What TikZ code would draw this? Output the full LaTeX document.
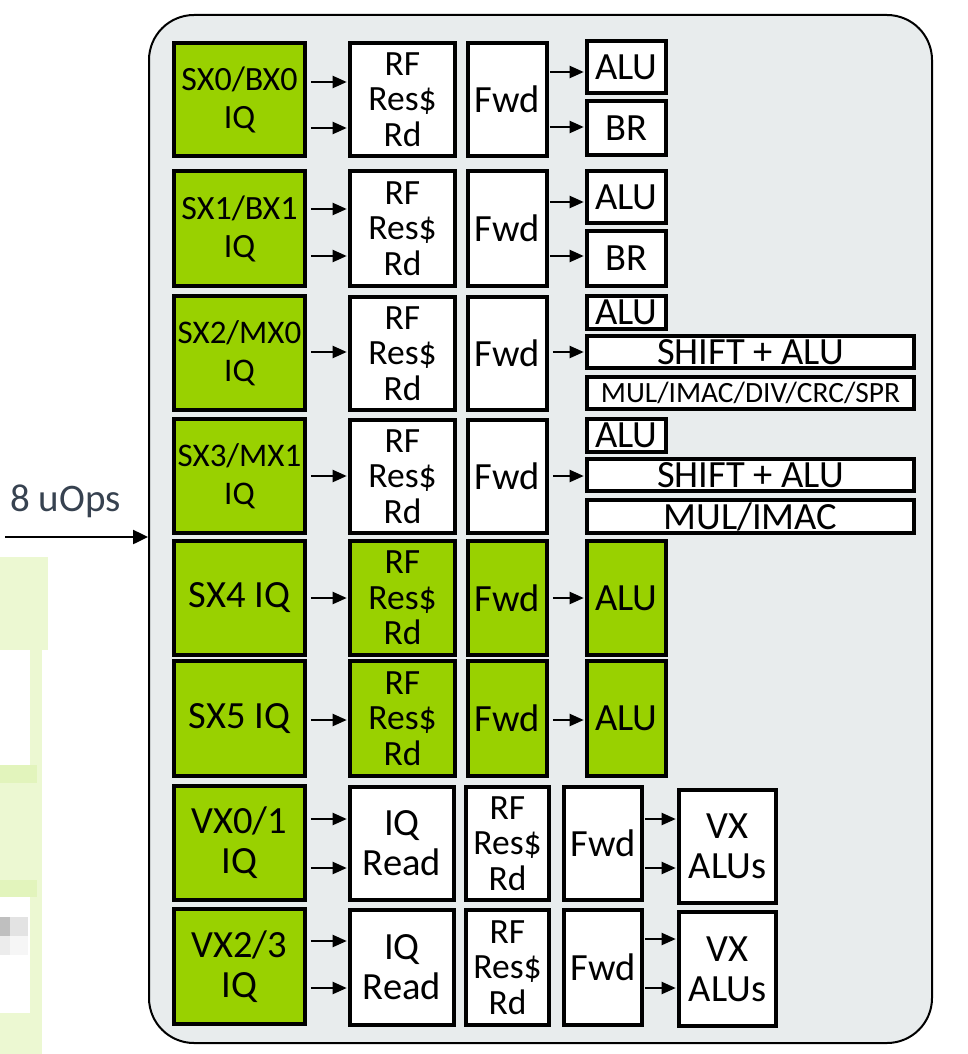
\documentclass[tikz,border=0pt]{standalone}
\usepackage{fontspec}
\setmainfont{Carlito}
\usetikzlibrary{arrows.meta}
\definecolor{grn}{RGB}{153,209,0}
\definecolor{panelc}{RGB}{232,236,237}
\definecolor{lbl}{RGB}{55,66,80}
\definecolor{pale}{RGB}{236,248,210}
\definecolor{palex}{RGB}{226,244,188}
\newcommand\fbig{\fontsize{38.5}{40}\selectfont}
\newcommand\fgA{\fontsize{34}{38}\selectfont}
\newcommand\fgB{\fontsize{33}{38}\selectfont}
\newcommand\frf{\fontsize{35.5}{35.5}\selectfont}
\newcommand\fsm{\fontsize{29.4}{30}\selectfont}
\newcommand\bx[7]{\node[#6, minimum width={#4pt-#2pt}, minimum height={#5pt-#3pt}] (#1) at ({(#2+#4)/2},{(#3+#5)/2}) {#7};}
\newcommand\arr[4]{\path (0,#3) coordinate (t); \draw[arrw, shorten <=#4pt] (#1.east |- t) -- (#2.west |- t);}
\begin{document}
\begin{tikzpicture}[x=1pt,y=-1pt,
  wbox/.style={draw, line width=3.6pt, fill=white, inner sep=0pt, align=center, font=\fbig},
  gbox/.style={wbox, fill=grn},
  rfw/.style={wbox, font=\frf},
  rfg/.style={gbox, font=\frf},
  arrw/.style={line width=2pt, shorten >=1.5pt, -{Triangle[length=14pt,width=12pt]}}]
\useasboundingbox (0,0) rectangle (967,1054);
% blurred remnants on the left
\fill[pale] (0,557) rectangle (48,650);
\fill[pale] (30,650) rectangle (42,1054);
\fill[pale] (0,765) rectangle (37,897);
\fill[palex] (0,765) rectangle (37,783);
\fill[palex] (0,880) rectangle (37,897);
\fill[gray!50] (0,917) rectangle (10,936);
\fill[gray!22] (10,917) rectangle (28,936);
\fill[gray!15] (0,936) rectangle (10,955);
\fill[gray!7] (10,936) rectangle (28,955);
\fill[pale] (0,1013) rectangle (35,1054);
% panel
\node[draw, line width=2pt, fill=panelc, rounded corners=45pt, minimum width=783pt, minimum height=1028pt, inner sep=0pt] (P) at (540.5,529) {};
% input
\node[font=\fontsize{39}{40}\selectfont, text=lbl, anchor=base west, inner sep=0pt] (lab) at (10,511) {8 uOps};
\coordinate (src) at (5,537);
\draw[line width=2.5pt, -{Triangle[length=15pt,width=14pt]}] (src) -- (P.west |- src);
% row 1
\bx{g1}{174}{43}{305}{156}{gbox, font=\fgA}{SX0/BX0\\IQ}
\bx{r1}{350}{43}{455}{156}{rfw}{RF\\Res\$\\Rd}
\bx{f1}{468}{43}{547}{156}{wbox}{Fwd}
\bx{a1}{587}{41}{666}{93}{wbox}{ALU}
\bx{b1}{587}{101}{666}{155}{wbox}{BR}
% row 2
\bx{g2}{174}{171}{305}{286}{gbox, font=\fgA}{SX1/BX1\\IQ}
\bx{r2}{350}{171}{455}{286}{rfw}{RF\\Res\$\\Rd}
\bx{f2}{468}{171}{547}{286}{wbox}{Fwd}
\bx{a2}{587}{171}{666}{223}{wbox}{ALU}
\bx{b2}{587}{231}{666}{286}{wbox}{BR}
% row 3
\bx{g3}{174}{296}{305}{410}{gbox, font=\fgB}{SX2/MX0\\IQ}
\bx{r3}{350}{297}{455}{410}{rfw}{RF\\Res\$\\Rd}
\bx{f3}{468}{297}{547}{410}{wbox}{Fwd}
\bx{a3}{587}{296}{666}{329}{wbox}{ALU}
\bx{s3}{587}{336}{914}{368}{wbox}{SHIFT + ALU}
\bx{m3}{587}{377}{914}{409}{wbox, font=\fsm}{MUL/IMAC/DIV/CRC/SPR}
% row 4
\bx{g4}{174}{419}{305}{533}{gbox, font=\fgB}{SX3/MX1\\IQ}
\bx{r4}{350}{420}{455}{533}{rfw}{RF\\Res\$\\Rd}
\bx{f4}{468}{420}{547}{533}{wbox}{Fwd}
\bx{a4}{587}{419}{666}{452}{wbox}{ALU}
\bx{s4}{587}{459}{914}{491}{wbox}{SHIFT + ALU}
\bx{m4}{587}{500}{914}{533}{wbox}{MUL/IMAC}
% row 5
\bx{g5}{174}{541}{305}{655}{gbox}{SX4 IQ}
\bx{r5}{350}{541}{455}{655}{rfg}{RF\\Res\$\\Rd}
\bx{f5}{468}{541}{547}{655}{gbox}{Fwd}
\bx{a5}{587}{541}{666}{655}{gbox}{ALU}
% row 6
\bx{g6}{174}{661}{305}{776}{gbox}{SX5 IQ}
\bx{r6}{350}{661}{455}{776}{rfg}{RF\\Res\$\\Rd}
\bx{f6}{468}{661}{547}{776}{gbox}{Fwd}
\bx{a6}{587}{661}{666}{776}{gbox}{ALU}
% row 7
\bx{g7}{174}{786}{305}{900}{gbox}{VX0/1\\IQ}
\bx{q7}{350}{787}{454}{900}{wbox}{IQ\\Read}
\bx{r7}{466}{787}{549}{900}{rfw}{RF\\Res\$\\Rd}
\bx{f7}{564}{787}{642}{900}{wbox}{Fwd}
\bx{v7}{679}{790}{776}{903}{wbox}{VX\\ALUs}
% row 8
\bx{g8}{174}{909}{305}{1024}{gbox}{VX2/3\\IQ}
\bx{q8}{350}{910}{454}{1025}{wbox}{IQ\\Read}
\bx{r8}{466}{910}{549}{1025}{rfw}{RF\\Res\$\\Rd}
\bx{f8}{564}{910}{642}{1025}{wbox}{Fwd}
\bx{v8}{679}{912}{776}{1026}{wbox}{VX\\ALUs}
% arrows
\arr{g1}{r1}{82}{4}  \arr{g1}{r1}{128}{4}
\arr{f1}{a1}{72}{1}  \arr{f1}{b1}{127}{1}
\arr{g2}{r2}{209}{4} \arr{g2}{r2}{256}{4}
\arr{f2}{a2}{202}{1} \arr{f2}{b2}{256}{1}
\arr{g3}{r3}{352}{4} \arr{f3}{s3}{352}{4}
\arr{g4}{r4}{476}{4} \arr{f4}{s4}{476}{4}
\arr{g5}{r5}{598}{4} \arr{f5}{a5}{598}{4}
\arr{g6}{r6}{720}{4} \arr{f6}{a6}{720}{4}
\arr{g7}{q7}{819}{4} \arr{g7}{q7}{868}{4}
\arr{f7}{v7}{819}{1} \arr{f7}{v7}{868}{1}
\arr{g8}{q8}{941}{4} \arr{g8}{q8}{988}{4}
\arr{f8}{v8}{939}{1} \arr{f8}{v8}{988}{1}
\end{tikzpicture}
\end{document}
